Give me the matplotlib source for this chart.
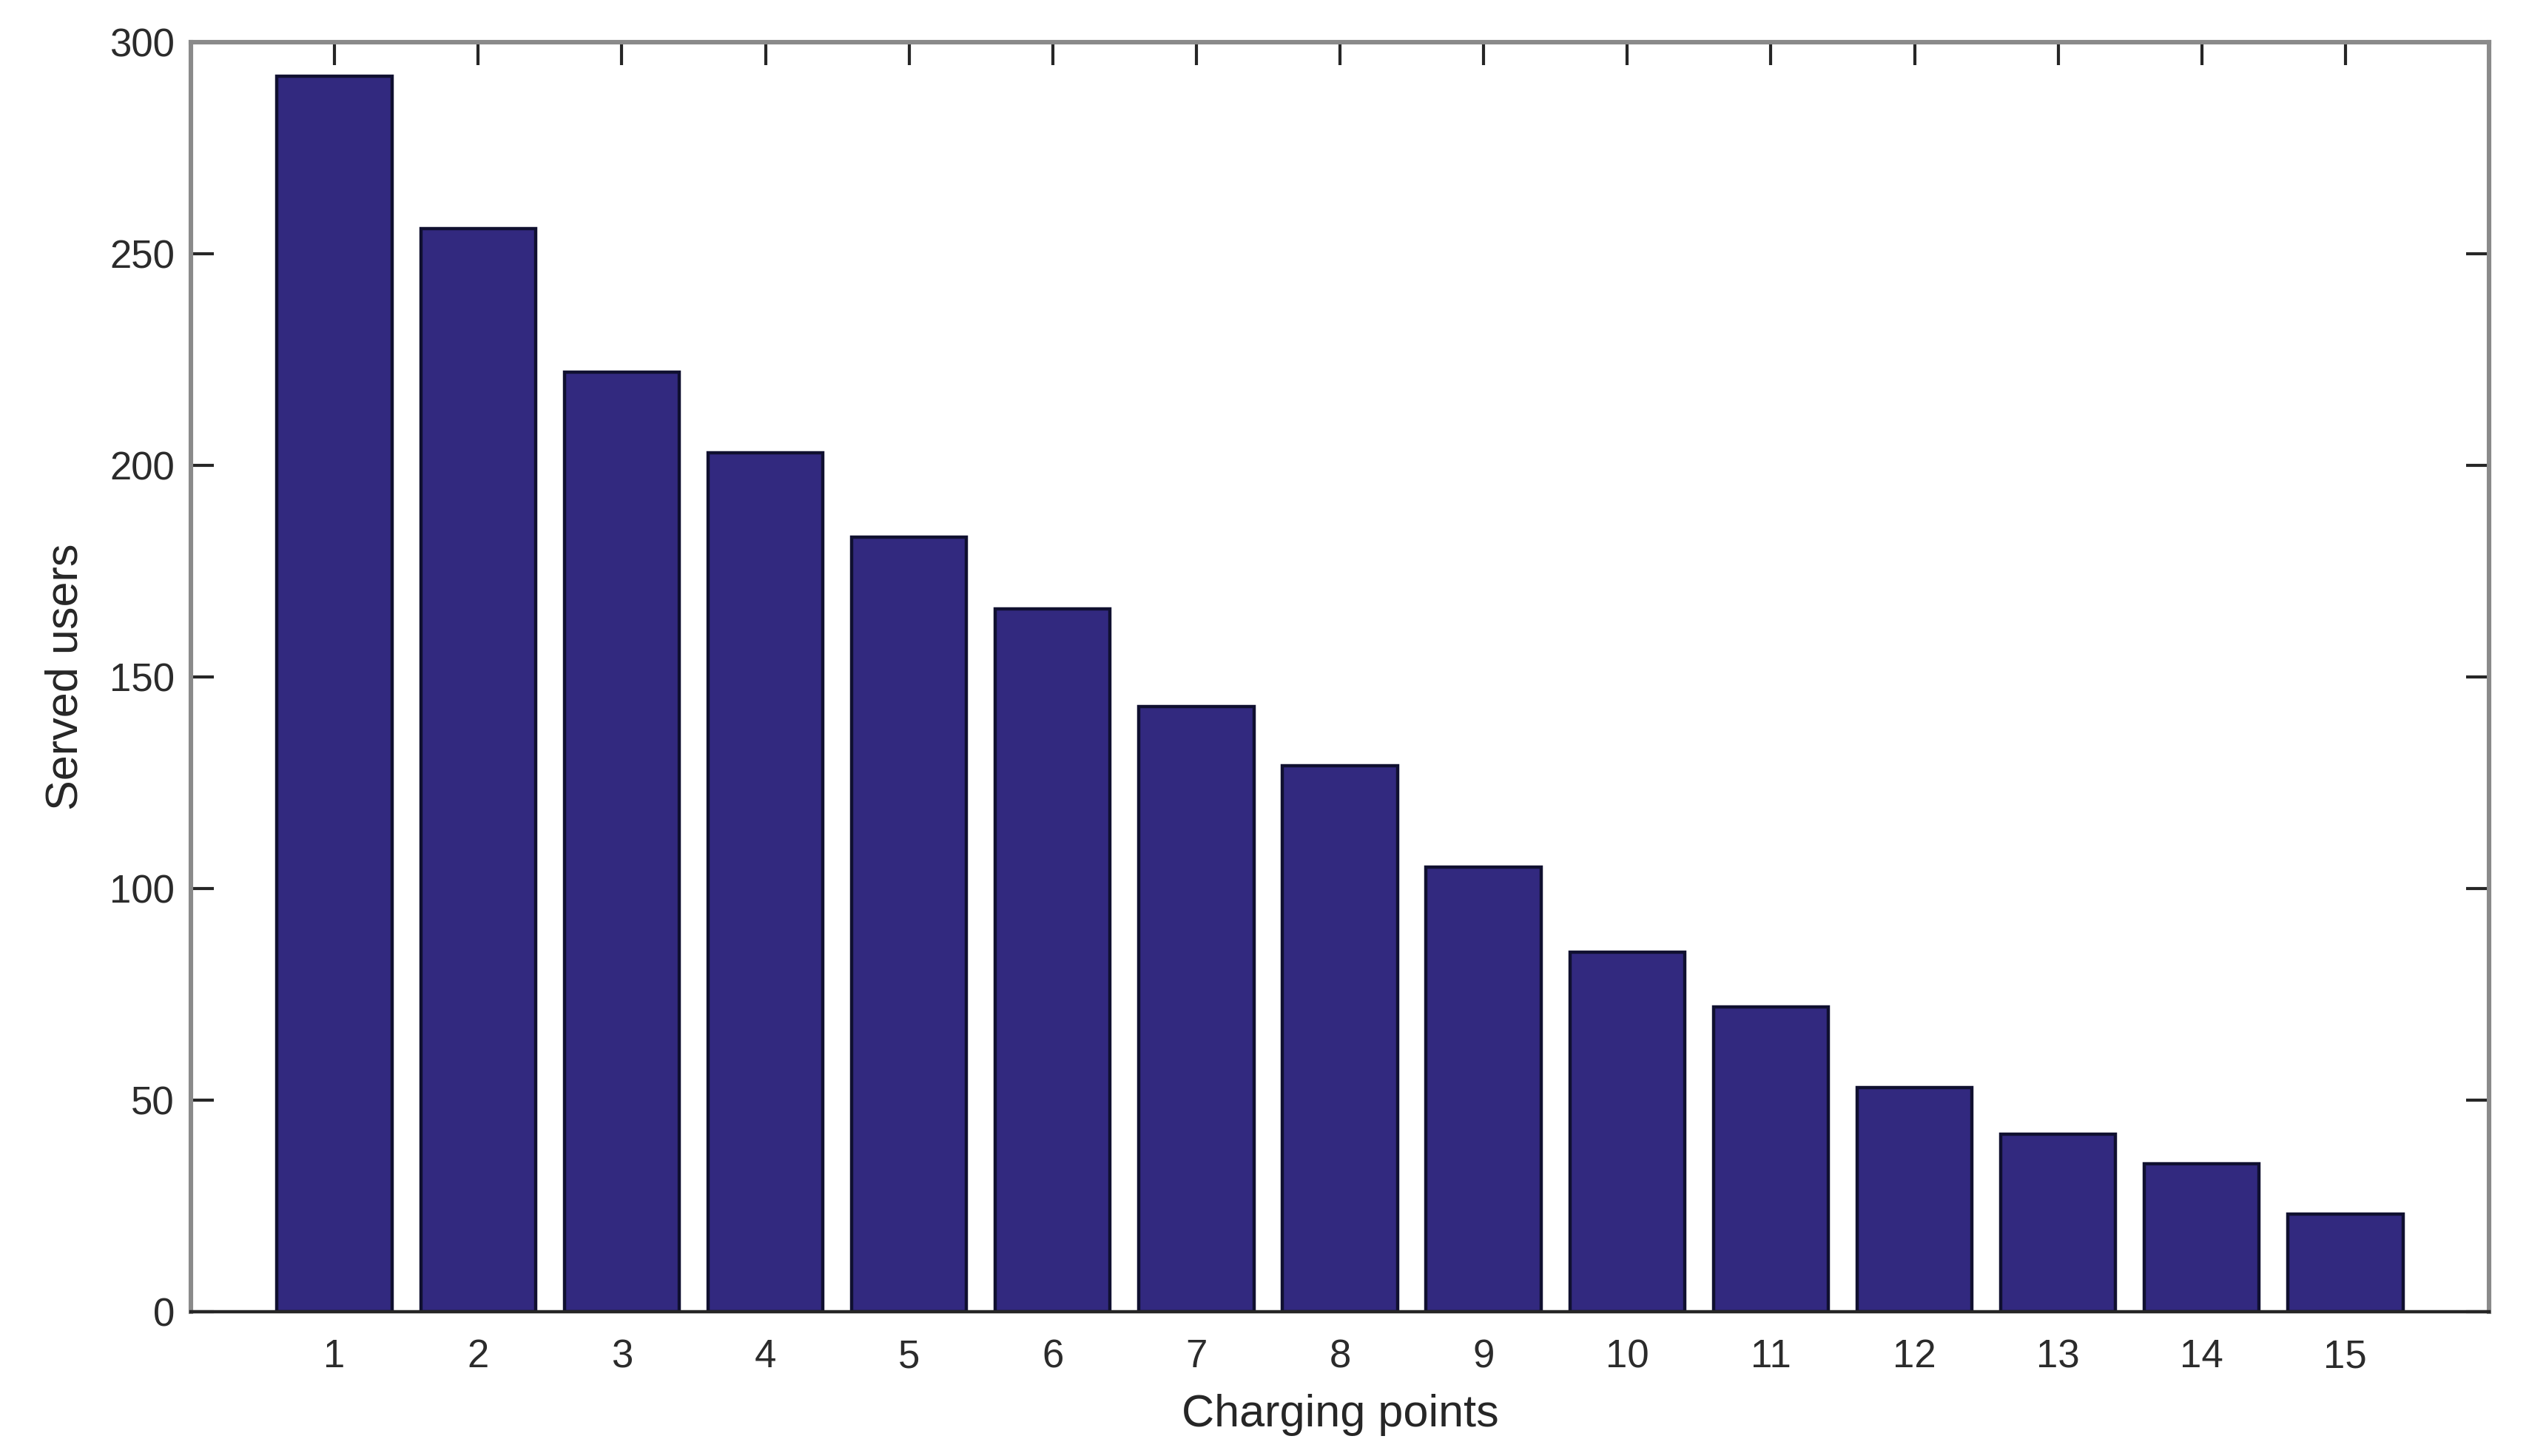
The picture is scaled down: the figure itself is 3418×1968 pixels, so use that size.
import matplotlib
matplotlib.use('Agg')
import matplotlib.pyplot as plt

plt.rcParams['font.family'] = ['Liberation Sans', 'DejaVu Sans']

charging_points = list(range(1, 16))
served_users = [292, 256, 222, 203, 183, 166, 143, 129, 105, 85, 72, 53, 42, 35, 23]

fig = plt.figure(figsize=(17.09, 9.84), dpi=200)
ax = fig.add_axes([258 / 3418, 1 - 1773 / 1968, (3364 - 258) / 3418, (1773 - 57) / 1968])

ax.bar(charging_points, served_users, width=0.8, color='#32297f', edgecolor='#101030', linewidth=1.6, zorder=2)

ax.set_xlim(0, 16)
ax.set_ylim(0, 300)
ax.set_xticks(charging_points)
ax.set_yticks([0, 50, 100, 150, 200, 250, 300])

for side in ['left', 'top', 'right']:
    ax.spines[side].set_color('#8a8a8a')
    ax.spines[side].set_linewidth(2.2)
ax.spines['bottom'].set_color('#262626')
ax.spines['bottom'].set_linewidth(1.6)

ax.tick_params(direction='in', length=11, width=1.5, color='#262626',
               top=True, right=True, labelsize=19, labelcolor='#2b2b2b')
ax.tick_params(axis='x', pad=13)
ax.tick_params(axis='y', pad=8)

ax.set_xlabel('Charging points', fontsize=22, color='#262626', labelpad=9)
ax.set_ylabel('Served users', fontsize=22, color='#262626', labelpad=11)

plt.savefig('out.png', dpi=200)
